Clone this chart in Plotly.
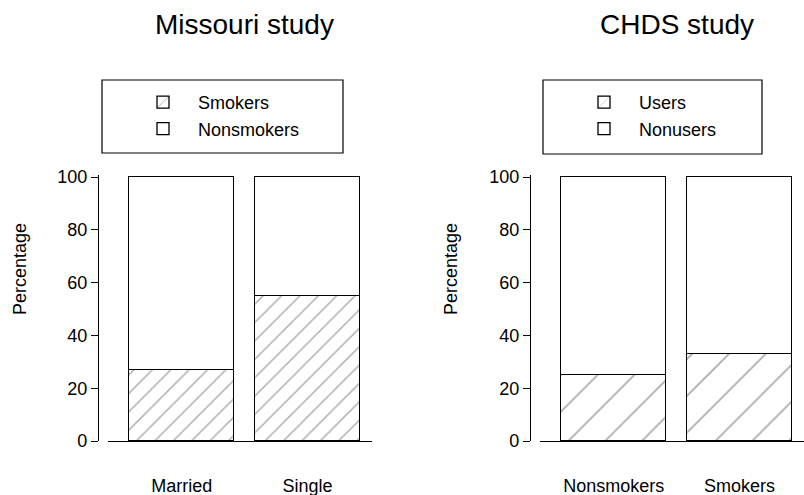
import plotly.graph_objects as go

# ---- data ----
missouri_groups = ["Married", "Single"]
missouri_smokers = [27, 55]
missouri_nonsmokers = [73, 45]

chds_groups = ["Nonsmokers", "Smokers"]
chds_users = [25, 33]
chds_nonusers = [75, 67]

y_ticks = [0, 20, 40, 60, 80, 100]

W, H = 804, 495
FONT = "Liberation Sans, Arial, Helvetica, sans-serif"


def px(x):
    return x / W


def py(y):
    return 1 - y / H


fig = go.Figure()

line = dict(color="black", width=1.3)

fig.add_trace(go.Bar(
    x=missouri_groups, y=missouri_smokers, name="Smokers", width=0.833,
    marker=dict(color="white", line=line,
                pattern=dict(shape="/", fgcolor="#555555", bgcolor="white", size=13, solidity=0.11)),
    xaxis="x", yaxis="y", legend="legend"))
fig.add_trace(go.Bar(
    x=missouri_groups, y=missouri_nonsmokers, name="Nonsmokers", width=0.833,
    marker=dict(color="white", line=line),
    xaxis="x", yaxis="y", legend="legend"))
fig.add_trace(go.Bar(
    x=chds_groups, y=chds_users, name="Users", width=0.833,
    marker=dict(color="white", line=line,
                pattern=dict(shape="/", fgcolor="#555555", bgcolor="white", size=26, solidity=0.065)),
    xaxis="x2", yaxis="y2", legend="legend2"))
fig.add_trace(go.Bar(
    x=chds_groups, y=chds_nonusers, name="Nonusers", width=0.833,
    marker=dict(color="white", line=line),
    xaxis="x2", yaxis="y2", legend="legend2"))

xcommon = dict(type="category", showline=True, linecolor="black", linewidth=1.3,
               ticks="", showgrid=False, zeroline=False, ticklabelstandoff=28,
               automargin=False,
               tickfont=dict(family=FONT, size=18, color="black"),
               range=[-0.585, 1.512], fixedrange=True)
ycommon = dict(range=[0, 100.7], tickvals=y_ticks, showline=True, linecolor="black",
               linewidth=1.3, ticks="outside", ticklen=7, tickwidth=1.2, tickcolor="black",
               showgrid=False, zeroline=False, anchor="free", automargin=False,
               tickfont=dict(family=FONT, size=18, color="black"),
               domain=[py(441), py(175.15)], fixedrange=True)

legend_common = dict(bgcolor="rgba(0,0,0,0)", borderwidth=0, traceorder="normal",
                     font=dict(family=FONT, size=18, color="black"),
                     xanchor="left", yanchor="top", itemwidth=60,
                     tracegroupgap=0, itemclick=False)

fig.update_layout(
    width=W, height=H,
    margin=dict(l=0, r=0, t=0, b=0, autoexpand=False),
    paper_bgcolor="white", plot_bgcolor="white",
    barmode="stack", bargap=0,
    font=dict(family=FONT, color="black"),
    xaxis=dict(domain=[px(108), px(372)], anchor="y", **xcommon),
    yaxis=dict(position=px(98), **ycommon),
    xaxis2=dict(domain=[px(540), px(804)], anchor="y2", **xcommon),
    yaxis2=dict(position=px(530), **ycommon),
    legend=dict(x=px(128), y=py(84), **legend_common),
    legend2=dict(x=px(569), y=py(84), **legend_common),
    showlegend=True,
    shapes=[
        dict(type="rect", xref="paper", yref="paper", x0=px(102), x1=px(343),
             y0=py(153), y1=py(80), line=dict(color="black", width=1.2)),
        dict(type="rect", xref="paper", yref="paper", x0=px(543), x1=px(762),
             y0=py(154), y1=py(80), line=dict(color="black", width=1.2)),
    ],
    annotations=[
        dict(text="Missouri study", x=px(245), y=py(25), xref="paper", yref="paper",
             showarrow=False, xanchor="center", yanchor="middle",
             font=dict(family=FONT, size=28, color="black")),
        dict(text="CHDS study", x=px(677), y=py(25), xref="paper", yref="paper",
             showarrow=False, xanchor="center", yanchor="middle",
             font=dict(family=FONT, size=28, color="black")),
        dict(text="Percentage", x=px(20), y=py(269), xref="paper", yref="paper",
             showarrow=False, textangle=-90, xanchor="center", yanchor="middle",
             font=dict(family=FONT, size=18, color="black")),
        dict(text="Percentage", x=px(451), y=py(269), xref="paper", yref="paper",
             showarrow=False, textangle=-90, xanchor="center", yanchor="middle",
             font=dict(family=FONT, size=18, color="black")),
    ],
)

fig.write_html("out.html", config={"displayModeBar": False},
               post_script="document.body.style.margin='0px';document.body.style.overflow='hidden';")
